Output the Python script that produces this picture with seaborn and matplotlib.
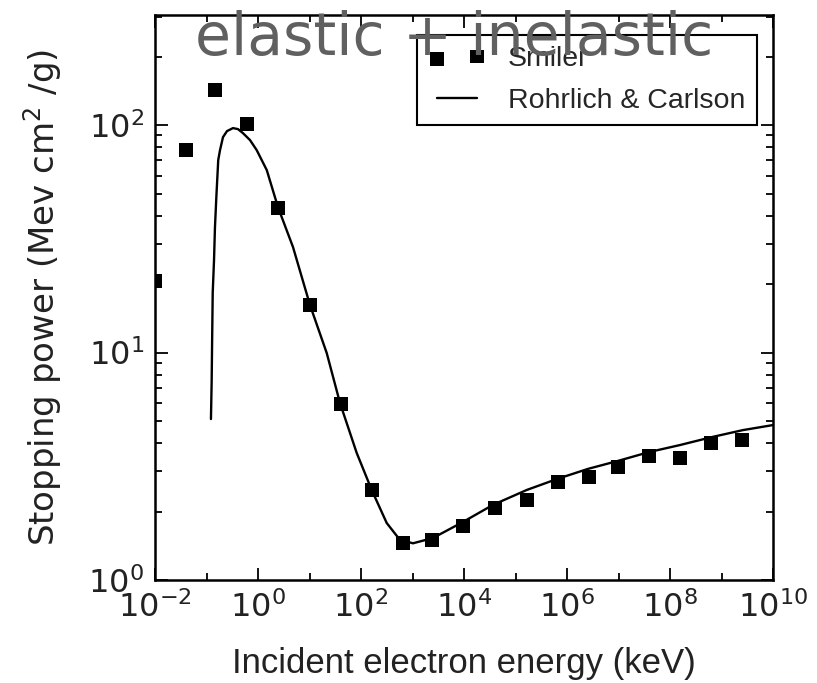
import numpy as np
import pandas as pd
import matplotlib
matplotlib.use("Agg")
import matplotlib.pyplot as plt
import matplotlib.ticker as mticker
import seaborn as sns

# Smilei simulation points
smilei_energy = [1e-2, 0.040, 0.146, 0.62, 2.45, 10.2, 41, 162, 660, 2400,
                 9.5e3, 4.0e4, 1.66e5, 6.8e5, 2.7e6, 9.8e6, 3.9e7, 1.55e8, 6.3e8, 2.5e9]
smilei_power = [20.6, 77.6, 142, 101, 43, 16.2, 5.94, 2.49, 1.45, 1.50,
                1.73, 2.07, 2.25, 2.70, 2.84, 3.14, 3.51, 3.44, 4.0, 4.12]

# Rohrlich & Carlson curve
rc_energy = [0.122, 0.126, 0.128, 0.132, 0.140, 0.146, 0.156, 0.169, 0.183, 0.209,
             0.25, 0.327, 0.409, 0.51, 0.70, 0.944, 1.48, 2.44,
             4.78, 10.2, 21.6, 39.1, 82.5, 161, 316, 571, 1023, 2500,
             9570, 3.66e4, 1.67e5, 6.4e5, 2.56e6, 9.8e6, 3.9e7, 1.56e8, 6.5e8, 2.6e9, 1e10]
rc_power = [5.10, 7.5, 10.3, 18.3, 25.5, 35.6, 49.3, 70.2, 77.6, 88.5,
            94.1, 97, 96, 92.2, 85.9, 77.6, 63.4, 43.6,
            29.1, 16.2, 9.95, 6.0, 3.62, 2.49, 1.78, 1.50, 1.45, 1.53,
            1.80, 2.14, 2.49, 2.78, 3.08, 3.34, 3.65, 3.92, 4.25, 4.56, 4.80]

x_tick_vals = [1e-2, 1e0, 1e2, 1e4, 1e6, 1e8, 1e10]
x_tick_labels = ["$10^{-2}$", "$10^{0}$", "$10^{2}$", "$10^{4}$", "$10^{6}$", "$10^{8}$", "$10^{10}$"]
y_tick_vals = [1e0, 1e1, 1e2]
y_tick_labels = ["$10^{0}$", "$10^{1}$", "$10^{2}$"]

sns.set_style("ticks")
plt.rcParams["mathtext.fontset"] = "dejavusans"

df_s = pd.DataFrame({"energy": smilei_energy, "power": smilei_power})
df_l = pd.DataFrame({"energy": rc_energy, "power": rc_power})

fig = plt.figure(figsize=(8.17, 6.83), dpi=100)
ax = fig.add_axes([155 / 817, 1 - 580 / 683, (773 - 155) / 817, (580 - 15) / 683])

sns.lineplot(data=df_l, x="energy", y="power", ax=ax, color="black", lw=1.7,
             label="Rohrlich & Carlson", sort=False, estimator=None)
sns.scatterplot(data=df_s, x="energy", y="power", ax=ax, marker="s", s=95,
                color="black", edgecolor="black", linewidth=0, label="Smilei", zorder=3)

ax.set_xscale("log")
ax.set_yscale("log")
ax.set_xlim(1e-2, 1e10)
ax.set_ylim(1, 10 ** 2.484)

ax.set_xticks(x_tick_vals)
ax.set_xticklabels(x_tick_labels)
ax.xaxis.set_minor_locator(mticker.FixedLocator([1e-1, 1e1, 1e3, 1e5, 1e7, 1e9]))
ax.xaxis.set_minor_formatter(mticker.NullFormatter())
ax.set_yticks(y_tick_vals)
ax.set_yticklabels(y_tick_labels)
ax.yaxis.set_minor_locator(mticker.LogLocator(base=10, subs=np.arange(2, 10)))
ax.yaxis.set_minor_formatter(mticker.NullFormatter())

ax.tick_params(which="both", direction="in", top=True, right=True, color="black", width=1.3)
ax.tick_params(which="major", length=9, labelsize=23, pad=8, labelcolor="#222222")
ax.tick_params(which="minor", length=5)
for sp in ax.spines.values():
    sp.set_linewidth(1.8)
    sp.set_color("black")

ax.set_xlabel("Incident electron energy (keV)", fontsize=25, family="Liberation Sans",
              color="#222222", labelpad=17)
ax.set_ylabel("Stopping power (Mev cm$^2$ /g)", fontsize=24.5, color="#222222", labelpad=17)

handles, labels = ax.get_legend_handles_labels()
order = [labels.index("Smilei"), labels.index("Rohrlich & Carlson")]
leg = ax.legend([handles[i] for i in order], [labels[i] for i in order],
                loc="upper right", bbox_to_anchor=(0.997, 0.99), frameon=True, fancybox=False,
                edgecolor="black", framealpha=1, scatterpoints=2, numpoints=2,
                prop={"family": "Liberation Sans", "size": 20.5}, borderpad=0.4,
                handlelength=2.0, handletextpad=0.8, labelspacing=0.55)
leg.get_frame().set_linewidth(1.5)

fig.text(454 / 817, 1 - 39 / 683, "elastic + inelastic", ha="center", va="center",
         fontsize=42, color="#606060")

fig.savefig("out.png", dpi=100)
